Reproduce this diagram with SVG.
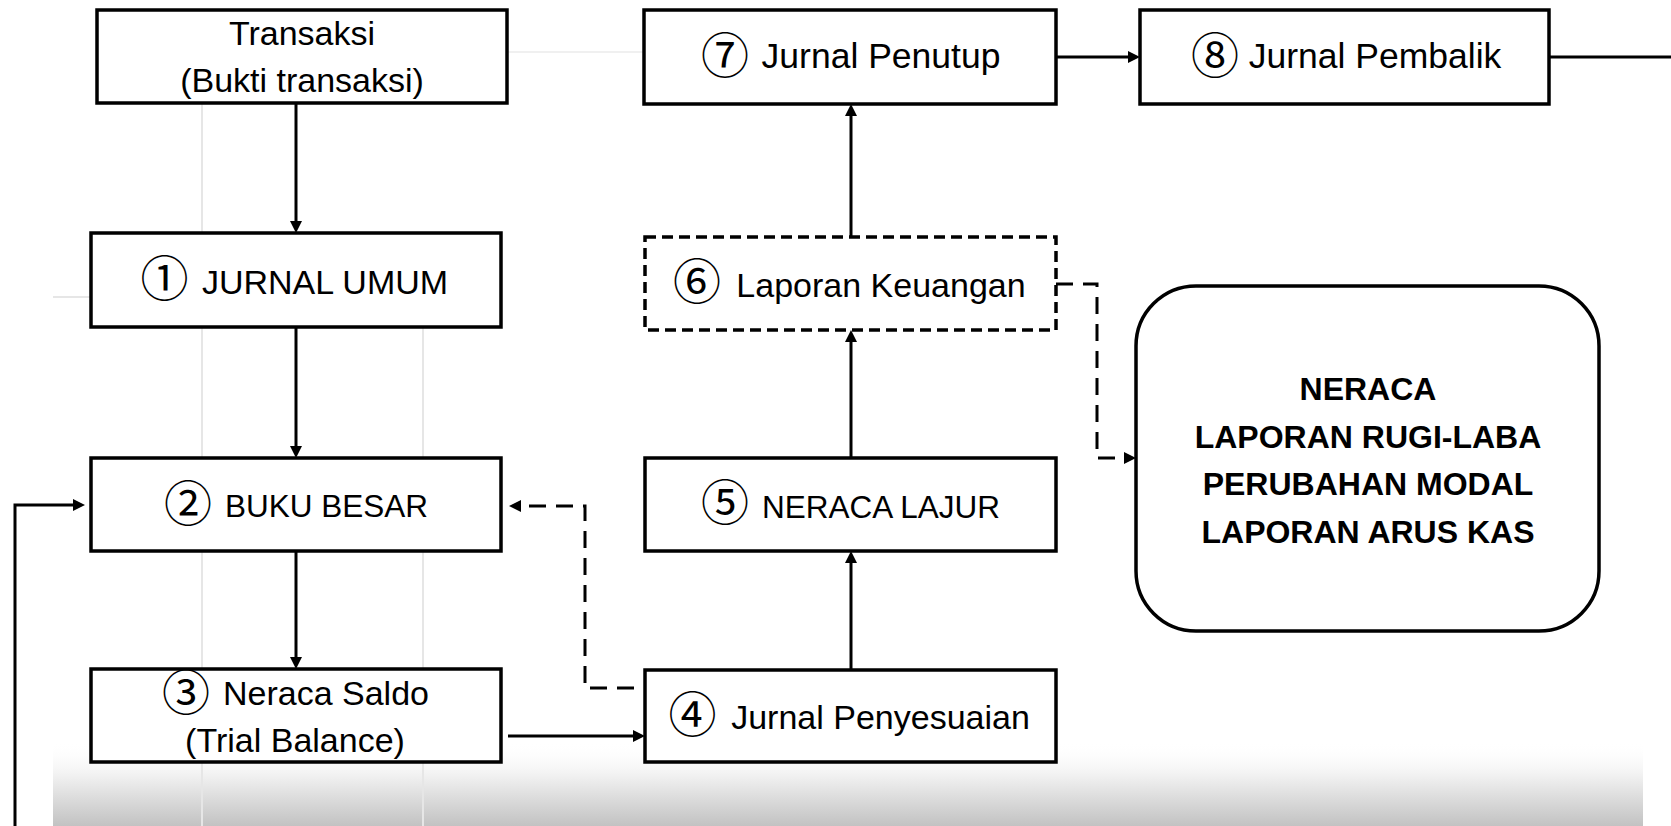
<svg xmlns="http://www.w3.org/2000/svg" width="1671" height="826" viewBox="0 0 1671 826">
<style>
.box{fill:#fff;stroke:#000;stroke-width:3.5}
.dbox{fill:#fff;stroke:#000;stroke-width:3.5;stroke-dasharray:11 6}
.lbl{font-family:"Liberation Sans",Arial,sans-serif;font-size:34px;fill:#000;text-anchor:middle}
.num{font-family:"Noto Sans CJK JP","Noto Sans CJK SC","DejaVu Sans",sans-serif;font-size:48px;font-weight:normal}
.cap{font-size:31.5px}
.wide{font-size:35.5px}
.big{font-family:"Liberation Sans",Arial,sans-serif;font-size:32px;font-weight:bold;fill:#000;text-anchor:middle}
.con{fill:none;stroke:#000;stroke-width:3}
.dash{stroke-dasharray:17 10}
.grid{stroke:#e6e6e6;stroke-width:2;fill:none}
</style>
<defs>
<marker id="ah" viewBox="0 0 12 12" markerUnits="userSpaceOnUse" markerWidth="12" markerHeight="12" refX="6" refY="6" orient="auto">
<path d="M0,0 L12,6 L0,12 z" fill="#000"/>
</marker>
<linearGradient id="shade" x1="0" y1="0" x2="0" y2="1">
<stop offset="0" stop-color="#ffffff" stop-opacity="0"/>
<stop offset="0.45" stop-color="#ededed"/>
<stop offset="1" stop-color="#c2c2c2"/>
</linearGradient>
</defs>
<rect width="1671" height="826" fill="#fff"/>
<g id="background">
<rect x="53" y="742" width="1590" height="84" fill="url(#shade)"/>
<path class="grid" d="M202,103 V826 M423,327 V826 M53,297 H91"/>
<path d="M507,52 H644" stroke="#f0f0f0" stroke-width="2"/>
</g>
<g id="connectors">
<path class="con" d="M296,103 V227" marker-end="url(#ah)"/>
<path class="con" d="M296,327 V452" marker-end="url(#ah)"/>
<path class="con" d="M296,551 V663" marker-end="url(#ah)"/>
<path class="con" d="M508,736 H639" marker-end="url(#ah)"/>
<path class="con" d="M851,670 V557" marker-end="url(#ah)"/>
<path class="con" d="M851,458 V336" marker-end="url(#ah)"/>
<path class="con" d="M851,237 V110" marker-end="url(#ah)"/>
<path class="con" d="M1056,57 H1134" marker-end="url(#ah)"/>
<path class="con" d="M1549,57 H1671"/>
<path class="con" d="M15,826 V505 H79" marker-end="url(#ah)"/>
<path class="con dash" d="M634,688 H585 V506 H515" marker-end="url(#ah)"/>
<path class="con dash" d="M1056,284 H1097 V458 H1130" marker-end="url(#ah)"/>
</g>
<g id="n0">
<rect class="box" x="97" y="10" width="410" height="93"/>
<text class="lbl"><tspan x="302" y="45">Transaksi</tspan><tspan x="302" y="92">(Bukti transaksi)</tspan></text>
</g>
<g id="n1">
<rect class="box" x="91" y="233" width="410" height="94"/>
<text class="lbl"><tspan class="num" x="164.5" y="296">①</tspan><tspan x="325" y="294">JURNAL UMUM</tspan></text>
</g>
<g id="n2">
<rect class="box" x="91" y="458" width="410" height="93"/>
<text class="lbl"><tspan class="num" x="188" y="521">②</tspan><tspan class="cap" x="326.5" y="517">BUKU BESAR</tspan></text>
</g>
<g id="n3">
<rect class="box" x="91" y="669" width="410" height="93"/>
<text class="lbl"><tspan class="num" x="186" y="710">③</tspan><tspan x="326" y="705">Neraca Saldo</tspan><tspan x="295" y="752">(Trial Balance)</tspan></text>
</g>
<g id="n4">
<rect class="box" x="645" y="670" width="411" height="92"/>
<text class="lbl"><tspan class="num" x="692.5" y="732">④</tspan><tspan x="880.5" y="729">Jurnal Penyesuaian</tspan></text>
</g>
<g id="n5">
<rect class="box" x="645" y="458" width="411" height="93"/>
<text class="lbl"><tspan class="num" x="725" y="520">⑤</tspan><tspan class="cap" x="881" y="518">NERACA LAJUR</tspan></text>
</g>
<g id="n6">
<rect class="dbox" x="645" y="237" width="411" height="93"/>
<text class="lbl"><tspan class="num" x="697" y="299">⑥</tspan><tspan x="881" y="296.5">Laporan Keuangan</tspan></text>
</g>
<g id="n7">
<rect class="box" x="644" y="10" width="412" height="94"/>
<text class="lbl"><tspan class="num" x="725" y="73">⑦</tspan><tspan class="wide" x="881" y="68">Jurnal Penutup</tspan></text>
</g>
<g id="n8">
<rect class="box" x="1140" y="10" width="409" height="94"/>
<text class="lbl"><tspan class="num" x="1215" y="73">⑧</tspan><tspan class="wide" x="1375" y="68">Jurnal Pembalik</tspan></text>
</g>
<g id="n9">
<rect class="box" x="1136" y="286" width="463" height="345" rx="60" ry="60"/>
<text class="big"><tspan x="1368" y="400">NERACA</tspan><tspan x="1368" y="448">LAPORAN RUGI-LABA</tspan><tspan x="1368" y="495">PERUBAHAN MODAL</tspan><tspan x="1368" y="543">LAPORAN ARUS KAS</tspan></text>
</g>
</svg>
